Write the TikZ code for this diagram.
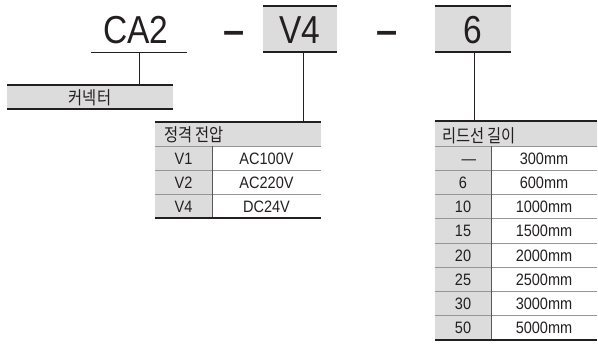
\documentclass[tikz,border=0pt]{standalone}
\usepackage{fontspec}
\newfontfamily\latf{Liberation Sans}[FakeStretch=0.88]
\newfontfamily\bigf{Liberation Sans}[FakeStretch=0.86]
\newfontfamily\dashf{Liberation Sans Bold}
\newfontfamily\krf{Noto Sans CJK KR}[FakeStretch=0.85]
\definecolor{cellgray}{RGB}{220,220,220}
\definecolor{rulegray}{RGB}{150,150,150}
\definecolor{ink}{RGB}{35,31,32}
\tikzset{
  thickrule/.style={line width=2.2bp, draw=ink},
  thinrule/.style={line width=0.9bp, draw=rulegray},
  divider/.style={line width=0.9bp, draw=ink!75},
  leader/.style={line width=0.9bp, draw=ink},
  fillbox/.style={fill=cellgray, draw=none, inner sep=0, outer sep=0},
  bigtext/.style={font=\bigf\fontsize{39bp}{39bp}\selectfont, inner sep=0, anchor=base, text=ink},
  dashtext/.style={font=\dashf\fontsize{38bp}{38bp}\selectfont, inner sep=0, anchor=base, text=ink},
  cell/.style={font=\latf\fontsize{16.5bp}{17bp}\selectfont, inner sep=0, anchor=base, text=ink},
  krcell/.style={font=\krf\fontsize{18bp}{18bp}\selectfont, inner sep=0, anchor=base west, text=ink},
  krcenter/.style={font=\krf\fontsize{18bp}{18bp}\selectfont, inner sep=0, anchor=base, text=ink},
}
\begin{document}
\begin{tikzpicture}[x=1bp,y=-1bp]
\useasboundingbox (0,0) rectangle (598,343);

% ---- code line ----
\node[bigtext] (ca2) at (136,43) {CA2};
\node[dashtext] (dash1) at (234.5,43) {–};
\node[fillbox, minimum width=74bp, minimum height=46bp] (v4box) at (300,29) {};
\draw[thickrule] (v4box.north west) -- (v4box.north east);
\draw[thickrule] (v4box.south west) -- (v4box.south east);
\node[bigtext] (v4) at (300,43) {V4};
\node[dashtext] (dash2) at (387,43) {–};
\node[fillbox, minimum width=76bp, minimum height=46bp] (sixbox) at (473,29) {};
\draw[thickrule] (sixbox.north west) -- (sixbox.north east);
\draw[thickrule] (sixbox.south west) -- (sixbox.south east);
\node[bigtext] (six) at (473,43) {6};

% ---- connector label ----
\coordinate (ulL) at (91,52);
\coordinate (ulR) at (187,52);
\draw[leader] (ulL) -- (ulR);
\node[fillbox, minimum width=166bp, minimum height=24bp] (conbox) at (90,97) {};
\draw[thickrule] (conbox.north west) -- (conbox.north east);
\draw[thickrule] (conbox.south west) -- (conbox.south east);
\node[krcenter] (contxt) at (90,104) {커넥터};
\coordinate (catap) at (139,52);
\draw[leader] (catap) -- (catap |- conbox.north);

% ---- voltage table ----
\node[fillbox, minimum width=166bp, minimum height=24bp] (vhead) at (238,134) {};
\fill[cellgray] (155,146) rectangle (212,218);
\node[krcell] (vheadtxt) at (164,141.5) {정격 전압};
\foreach \k/\v [count=\i] in {V1/AC100V, V2/AC220V, V4/DC24V}{
  \node[cell] (vk\i) at (183.5,{146+24*(\i-1)+18}) {\k};
  \node[cell] (vv\i) at (266.5,{146+24*(\i-1)+18}) {\v};
}
\foreach \y in {146,170,194}{\draw[thinrule] (155,\y) -- (321,\y);}
\draw[divider] (212,146) -- (212,218);
\draw[thickrule] (vhead.north west) -- (vhead.north east);
\draw[thickrule] (155,218) -- (321,218);
\coordinate (v4tap) at (303,52);
\draw[leader] (v4tap) -- (v4tap |- vhead.north);

% ---- lead length table ----
\node[fillbox, minimum width=162bp, minimum height=25bp] (lhead) at (516,133.5) {};
\fill[cellgray] (435,146) rectangle (491,340);
\node[krcell] (lheadtxt) at (442,142) {리드선 길이};
\node[cell] (lk1) at (469,164.1) {—};
\node[cell] (lv1) at (544,164.1) {300mm};
\foreach \k/\v [count=\i from 2] in {6/600mm, 10/1000mm, 15/1500mm, 20/2000mm, 25/2500mm, 30/3000mm, 50/5000mm}{
  \node[cell] (lk\i) at (463,{146+24.25*(\i-1)+18.1}) {\k};
  \node[cell] (lv\i) at (544,{146+24.25*(\i-1)+18.1}) {\v};
}
\foreach \i in {0,...,7}{\draw[thinrule] (435,{146+24.25*\i}) -- (597,{146+24.25*\i});}
\draw[divider] (491,146) -- (491,340);
\draw[thickrule] (lhead.north west) -- (lhead.north east);
\draw[thickrule] (435,340) -- (597,340);
\coordinate (sixtap) at (474,52);
\draw[leader] (sixtap) -- (sixtap |- lhead.north);
\end{tikzpicture}
\end{document}
